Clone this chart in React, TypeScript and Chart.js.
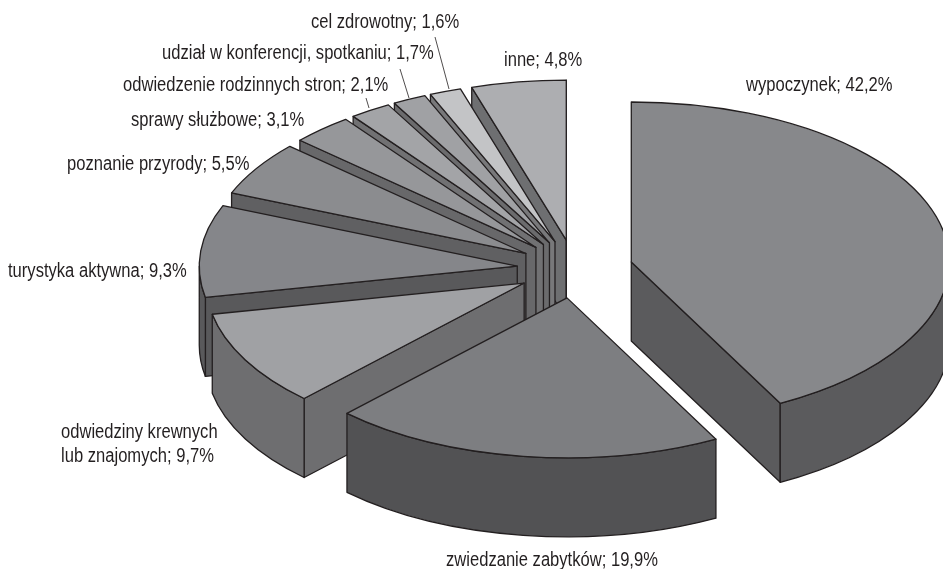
import React, { useEffect, useRef } from "react";
import { Chart, registerables } from "chart.js";

Chart.register(...registerables);

const categories = [
  "wypoczynek",
  "zwiedzanie zabytków",
  "odwiedziny krewnych lub znajomych",
  "turystyka aktywna",
  "poznanie przyrody",
  "sprawy służbowe",
  "odwiedzenie rodzinnych stron",
  "udział w konferencji, spotkaniu",
  "cel zdrowotny",
  "inne",
];
const shares = [42.2, 19.9, 9.7, 9.3, 5.5, 3.1, 2.1, 1.7, 1.6, 4.8];
const topColors = ["#87888b", "#7d7e81", "#a0a1a4", "#85868a", "#8b8c8f", "#96979a", "#a3a4a7", "#a0a1a4", "#c3c4c6", "#adaeb1"];
const sideColors = ["#5b5b5d", "#525254", "#6e6e70", "#59595b", "#606062", "#68686a", "#717173", "#6b6b6d", "#78787a", "#6e6f71"];

const labelLines: [string, number, number][] = [
  ["cel zdrowotny; 1,6%", 311, 28],
  ["udział w konferencji, spotkaniu; 1,7%", 162, 59],
  ["inne; 4,8%", 504, 66],
  ["wypoczynek; 42,2%", 746, 91],
  ["odwiedzenie rodzinnych stron; 2,1%", 123, 91],
  ["sprawy służbowe; 3,1%", 131, 126],
  ["poznanie przyrody; 5,5%", 67, 170],
  ["turystyka aktywna; 9,3%", 8, 277],
  ["odwiedziny krewnych", 61, 438],
  ["lub znajomych; 9,7%", 61, 462],
  ["zwiedzanie zabytków; 19,9%", 446, 566],
];
const leaderLines = [
  [435, 37, 449, 89],
  [400, 69, 409, 98],
  [366, 98, 369, 108],
];

const RADIUS = 318;
const TILT = 0.503;
const DEPTH = 79;
const EXPLODE = 58;
const INK = "#231f20";
const TEXT_SQUEEZE = 0.85;

const pie3d = {
  id: "pie3d",
  beforeDatasetsDraw(chart: any) {
    const { ctx } = chart;
    const arcs: any[] = chart.getDatasetMeta(0).data;
    const order = arcs
      .map((_, i) => i)
      .sort((a, b) => {
        const ma = (arcs[a].startAngle + arcs[a].endAngle) / 2;
        const mb = (arcs[b].startAngle + arcs[b].endAngle) / 2;
        return Math.sin(ma) - Math.sin(mb);
      });
    ctx.save();
    ctx.lineJoin = "round";
    ctx.strokeStyle = INK;
    ctx.lineWidth = 1.3;
    for (const i of order) {
      const arc = arcs[i];
      const s = arc.startAngle;
      const e = arc.endAngle;
      const m = (s + e) / 2;
      const r = arc.outerRadius;
      const ry = r * TILT;
      const cx = arc.x + Math.cos(m) * EXPLODE;
      const cy = arc.y + Math.sin(m) * EXPLODE * TILT;
      const px = (t: number) => cx + Math.cos(t) * r;
      const py = (t: number) => cy + Math.sin(t) * ry;
      ctx.fillStyle = sideColors[i];
      const face = (t: number) => {
        ctx.beginPath();
        ctx.moveTo(cx, cy);
        ctx.lineTo(px(t), py(t));
        ctx.lineTo(px(t), py(t) + DEPTH);
        ctx.lineTo(cx, cy + DEPTH);
        ctx.closePath();
        ctx.fill();
        ctx.stroke();
      };
      if (Math.cos(s) < 0) face(s);
      if (Math.cos(e) > 0) face(e);
      const a = Math.max(s, 0);
      const b = Math.min(e, Math.PI);
      if (b > a) {
        ctx.beginPath();
        ctx.ellipse(cx, cy, r, ry, 0, a, b);
        ctx.ellipse(cx, cy + DEPTH, r, ry, 0, b, a, true);
        ctx.closePath();
        ctx.fill();
        ctx.stroke();
      }
      ctx.save();
      ctx.translate(cx, cy);
      ctx.scale(1, TILT);
      ctx.translate(-arc.x, -arc.y);
      arc.draw(ctx);
      ctx.restore();
      ctx.beginPath();
      ctx.moveTo(cx, cy);
      ctx.ellipse(cx, cy, r, ry, 0, s, e);
      ctx.closePath();
      ctx.stroke();
    }
    ctx.restore();
    return false;
  },
  afterDraw(chart: any) {
    const { ctx } = chart;
    ctx.save();
    ctx.fillStyle = INK;
    ctx.strokeStyle = INK;
    ctx.lineWidth = 0.8;
    ctx.font = '19.5px "Liberation Sans", sans-serif';
    ctx.textAlign = "left";
    ctx.textBaseline = "alphabetic";
    for (const [text, x, y] of labelLines) {
      ctx.save();
      ctx.translate(x, y);
      ctx.scale(TEXT_SQUEEZE, 1);
      ctx.fillText(text, 0, 0);
      ctx.restore();
    }
    for (const [x1, y1, x2, y2] of leaderLines) {
      ctx.beginPath();
      ctx.moveTo(x1, y1);
      ctx.lineTo(x2, y2);
      ctx.stroke();
    }
    ctx.restore();
  },
};

export default function App() {
  const ref = useRef<HTMLCanvasElement>(null);
  useEffect(() => {
    document.body.style.margin = "0";
    document.body.style.background = "#fff";
    const chart = new Chart(ref.current!, {
      type: "pie",
      data: {
        labels: categories,
        datasets: [{ data: shares, backgroundColor: topColors, borderWidth: 0 }],
      },
      options: {
        responsive: false,
        animation: false,
        radius: RADIUS,
        layout: { padding: { left: 207, bottom: 31 } },
        plugins: { legend: { display: false }, tooltip: { enabled: false } },
      } as any,
      plugins: [pie3d as any],
    });
    return () => chart.destroy();
  }, []);
  return <canvas ref={ref} width={943} height={569} style={{ display: "block" }} />;
}
